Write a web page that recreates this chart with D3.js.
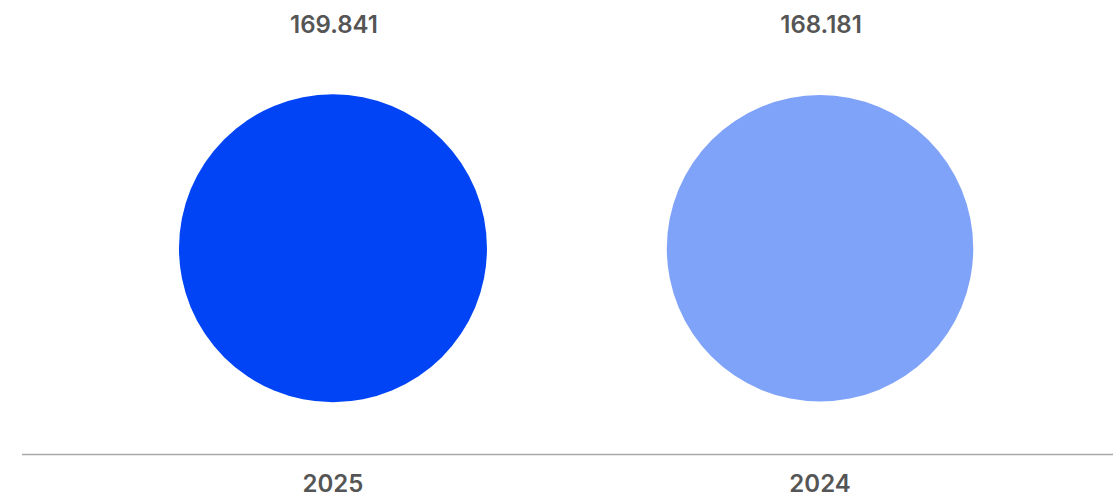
<!DOCTYPE html>
<html>
<head>
<meta charset="utf-8">
<script src="https://cdn.jsdelivr.net/npm/d3@7"></script>
<style>
  html, body { margin: 0; padding: 0; background: #fff; }
  svg { display: block; }
  text { font-family: Inter, "Noto Sans", sans-serif; }
</style>
</head>
<body>
<svg id="chart" width="1113" height="497"></svg>
<script>
const categories = ["2025", "2024"];
const values = [169.841, 168.181];
const valueLabels = ["169.841", "168.181"];
const colors = ["#0044f5", "#80a3fa"];

const W = 1113, H = 497;
const svg = d3.select("#chart");

const x = d3.scaleBand()
  .domain(categories)
  .range([40, 1113])
  .paddingInner(0)
  .paddingOuter(0.1015);

const r = d3.scaleSqrt()
  .domain([0, d3.max(values)])
  .range([0, 154]);

const cy = 248.3;
const axisY = 454.5;

const data = categories.map((c, i) => ({ c, v: values[i], label: valueLabels[i], color: colors[i] }));

svg.selectAll("circle.bubble")
  .data(data)
  .join("circle")
  .attr("class", "bubble")
  .attr("cx", d => x(d.c) + x.bandwidth() / 2)
  .attr("cy", cy)
  .attr("r", d => r(d.v))
  .attr("fill", d => d.color);

svg.selectAll("text.val")
  .data(data)
  .join("text")
  .attr("class", "val")
  .attr("x", d => x(d.c) + x.bandwidth() / 2 + 1)
  .attr("y", 24.7)
  .attr("dy", "0.36em")
  .attr("text-anchor", "middle")
  .attr("font-size", 24)
  .attr("font-weight", 600)
  .attr("fill", "#555555")
  .text(d => d.label);

const axis = d3.axisBottom(x).tickSize(0).tickPadding(0);
const g = svg.append("g").attr("transform", `translate(0,${axisY})`).call(axis);
g.select(".domain").remove();
g.append("line")
  .attr("x1", 22).attr("x2", 1113)
  .attr("y1", 0).attr("y2", 0)
  .attr("stroke", "#a9a9a9")
  .attr("stroke-width", 1.5);
g.selectAll(".tick text")
  .attr("y", 29.2)
  .attr("dy", "0.36em")
  .attr("font-family", "Inter, 'Noto Sans', sans-serif")
  .attr("font-size", 24)
  .attr("font-weight", 600)
  .attr("fill", "#555555");
</script>
</body>
</html>
